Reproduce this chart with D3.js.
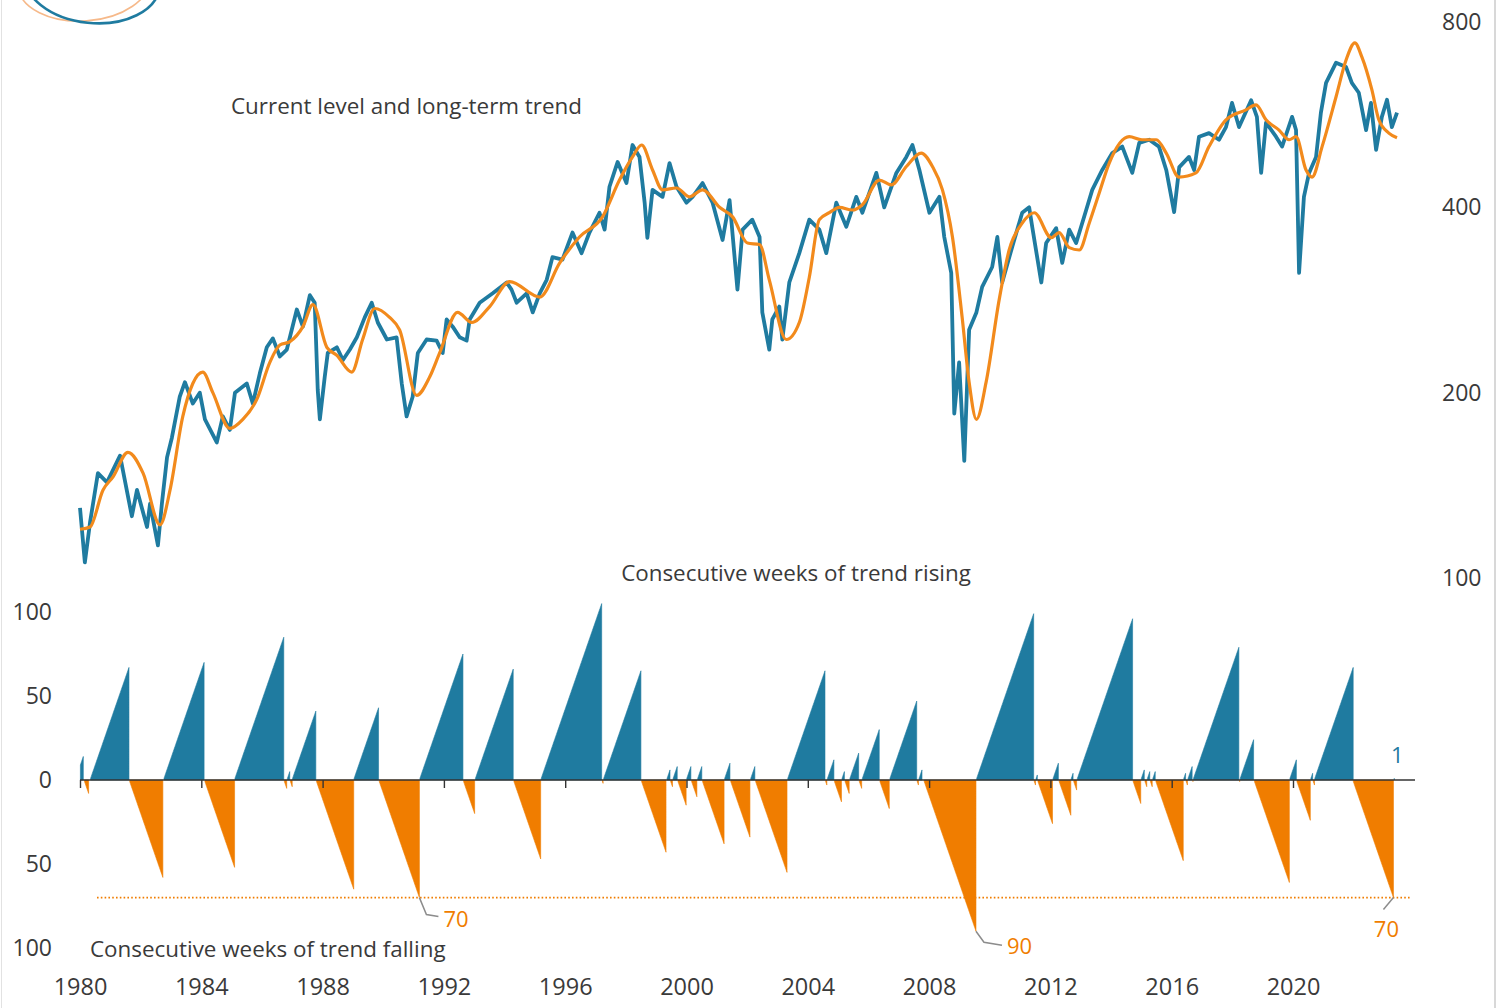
<!DOCTYPE html>
<html>
<head>
<meta charset="utf-8">
<script src="https://cdn.jsdelivr.net/npm/d3@7"></script>
<style>
  body { margin: 0; background: #fff; }
  svg text { font-family: "Open Sans", "Noto Sans", sans-serif; fill: #3a3a3a; }
</style>
</head>
<body>
<svg id="chart" width="1497" height="1008"></svg>
<script>
// index level (weekly close) and its long-term trend
const priceDates = [1980.00,1980.16,1980.33,1980.59,1980.89,1981.32,1981.71,1981.88,1982.21,1982.31,1982.57,1982.70,1982.87,1983.03,1983.29,1983.46,1983.72,1983.95,1984.12,1984.51,1984.71,1984.94,1985.11,1985.50,1985.70,1985.93,1986.16,1986.36,1986.59,1986.82,1987.15,1987.35,1987.58,1987.74,1987.84,1987.91,1988.07,1988.17,1988.47,1988.67,1988.90,1989.13,1989.39,1989.62,1989.82,1990.12,1990.44,1990.61,1990.77,1990.97,1991.14,1991.43,1991.76,1991.96,1992.09,1992.29,1992.52,1992.75,1992.85,1993.18,1993.61,1994.07,1994.23,1994.40,1994.73,1994.93,1995.16,1995.39,1995.58,1995.91,1996.24,1996.54,1996.80,1997.13,1997.30,1997.46,1997.73,1998.02,1998.22,1998.45,1998.62,1998.71,1998.88,1999.21,1999.44,1999.67,2000.00,2000.20,2000.53,2000.86,2001.19,2001.42,2001.68,2001.85,2002.17,2002.41,2002.50,2002.73,2002.83,2003.06,2003.16,2003.39,2003.72,2004.05,2004.38,2004.61,2004.94,2005.27,2005.60,2005.80,2006.26,2006.52,2006.92,2007.25,2007.45,2007.68,2008.01,2008.34,2008.50,2008.73,2008.83,2008.99,2009.16,2009.32,2009.56,2009.75,2010.08,2010.25,2010.41,2010.74,2011.07,2011.30,2011.40,2011.70,2011.86,2012.19,2012.39,2012.62,2012.85,2013.18,2013.38,2013.71,2014.04,2014.37,2014.70,2014.93,2015.26,2015.58,2015.82,2016.08,2016.25,2016.57,2016.74,2016.90,2017.23,2017.56,2017.79,2017.99,2018.22,2018.62,2018.81,2018.95,2019.11,2019.44,2019.64,2019.97,2020.10,2020.20,2020.36,2020.53,2020.76,2020.92,2021.09,2021.42,2021.75,2021.94,2022.17,2022.41,2022.57,2022.74,2022.93,2023.10,2023.26,2023.43];
const priceValues = [130,106,123,148,143,158,126,139,121,132,113,132,157,169,197,208,192,200,181,166,183,174,200,207,192,215,237,245,229,235,273,256,288,280,202,181,212,232,237,226,235,246,265,280,260,244,246,207,183,197,232,244,243,232,263,256,246,243,263,280,290,302,294,280,290,270,290,305,332,329,364,337,364,392,368,432,474,438,505,483,407,357,427,416,472,432,407,416,438,407,354,411,294,368,382,358,270,235,263,276,244,302,337,382,368,337,407,372,416,392,455,400,455,483,505,460,392,416,358,313,185,224,155,253,270,297,320,358,302,345,392,400,372,302,350,370,325,368,350,396,427,460,490,502,455,509,515,502,460,393,465,483,460,521,528,515,540,591,540,597,561,455,549,521,502,561,534,313,416,455,483,570,637,687,676,637,614,534,591,496,561,598,540,570];

const trendDates = [1980.00,1980.33,1980.76,1981.09,1981.58,1982.08,1982.64,1982.97,1983.39,1983.72,1984.05,1984.38,1984.94,1985.37,1985.83,1986.26,1986.59,1986.92,1987.35,1987.68,1988.14,1988.47,1988.96,1989.32,1989.72,1990.21,1990.54,1991.10,1991.53,1991.86,1992.45,1992.92,1993.51,1994.17,1995.16,1995.82,1996.47,1997.23,1997.79,1998.22,1998.52,1998.88,1999.21,1999.67,2000.10,2000.53,2001.09,2001.52,2002.01,2002.41,2002.73,2003.29,2003.72,2004.05,2004.38,2004.71,2005.04,2005.47,2005.80,2006.36,2006.75,2007.25,2007.74,2008.11,2008.44,2008.77,2009.09,2009.32,2009.56,2009.88,2010.31,2010.64,2011.07,2011.47,2012.03,2012.29,2012.62,2012.95,2013.28,2013.61,2013.94,2014.60,2015.02,2015.49,2015.82,2016.24,2016.80,2017.23,2017.79,2018.45,2018.78,2019.11,2019.54,2019.87,2020.10,2020.43,2020.63,2020.96,2021.42,2021.75,2022.04,2022.27,2022.60,2022.83,2023.16,2023.43];
const trendValues = [120,121,139,146,160,148,122,139,183,207,216,200,175,181,195,224,239,242,256,278,237,230,216,244,274,265,253,198,212,232,270,260,276,303,286,325,358,386,443,483,505,460,427,430,416,427,400,386,350,348,305,244,260,308,382,392,400,396,404,443,435,466,490,466,427,358,265,208,181,208,283,341,377,392,357,364,344,341,377,422,472,521,515,515,490,448,455,502,555,576,587,555,534,515,521,460,448,502,605,694,740,702,621,555,528,519];

// runs of consecutive weeks with the trend rising (+1) or falling (-1)
const runStart = [1979.86,1980.15,1980.35,1981.64,1982.77,1984.12,1985.11,1986.74,1986.84,1986.94,1987.01,1987.80,1989.04,1989.87,1991.21,1992.65,1993.04,1994.31,1995.21,1997.23,1997.27,1998.52,1999.36,1999.48,1999.56,1999.72,2000.01,2000.17,2000.37,2000.53,2001.26,2001.46,2002.12,2002.28,2003.34,2004.59,2004.65,2004.88,2005.13,2005.23,2005.39,2005.70,2005.80,2006.38,2006.71,2007.61,2007.67,2007.84,2009.57,2011.47,2011.53,2011.59,2012.09,2012.29,2012.69,2012.77,2012.89,2014.73,2015.00,2015.12,2015.20,2015.30,2015.38,2015.48,2016.40,2016.48,2016.54,2016.70,2016.72,2018.24,2018.26,2018.73,2019.90,2020.13,2020.59,2020.67,2020.72,2021.99,2023.34];
const runPeak  = [14,8,67,58,70,52,85,5,5,4,41,65,43,70,75,20,66,47,105,2,65,43,6,4,8,15,8,10,8,38,10,34,8,55,65,3,12,13,5,8,16,5,30,17,47,3,6,90,99,3,3,26,10,21,4,6,96,14,6,4,5,4,5,48,4,3,8,1,79,1,24,61,12,24,4,3,67,70,1];
const runSign  = [1,-1,1,-1,1,-1,1,-1,1,-1,1,-1,1,-1,1,-1,1,-1,1,-1,1,-1,1,-1,1,-1,1,-1,1,-1,1,-1,1,-1,1,-1,1,-1,1,-1,1,-1,1,-1,1,-1,1,-1,1,-1,1,-1,1,-1,1,-1,1,-1,1,-1,1,-1,1,-1,1,-1,1,-1,1,-1,1,-1,1,-1,1,-1,1,-1,1];

const xTickYears = [1980,1984,1988,1992,1996,2000,2004,2008,2012,2016,2020];
const priceTicks = [100,200,400,800];
const weekTicks = [100,50,0,-50,-100];
const threshold = -70;

const teal = "#1f7ba0";
const orange = "#f07d00";
const WEEK = 7 / 365.25;

const svg = d3.select('#chart');
const width = +svg.attr('width');
const height = +svg.attr('height');

const x = d3.scaleLinear().domain([1980, 2020]).range([80, 1293]);
const yTop = d3.scaleLog().domain([100, 800]).range([578, 22]);
const yBot = d3.scaleLinear().domain([-100, 100]).range([948, 612]);

// frame edges
svg.append('line').attr('x1', 1.5).attr('x2', 1.5).attr('y1', 0).attr('y2', height).attr('stroke', '#e2e2e2');
svg.append('line').attr('x1', width - 2).attr('x2', width - 2).attr('y1', 0).attr('y2', height).attr('stroke', '#d8d8d8').attr('stroke-width', 2);

// logo rings, cut by the top edge
svg.append('ellipse').attr('cx', 84).attr('cy', -18).attr('rx', 66).attr('ry', 39)
  .attr('fill', 'none').attr('stroke', '#f6b98a').attr('stroke-width', 1.6).attr('transform', 'rotate(-4,84,-18)');
svg.append('ellipse').attr('cx', 92).attr('cy', -20).attr('rx', 68).attr('ry', 43)
  .attr('fill', 'none').attr('stroke', teal).attr('stroke-width', 2.6).attr('transform', 'rotate(6,92,-20)');

// ---- upper panel
const priceData = priceDates.map((d, i) => ({date: d, value: priceValues[i]}));
const trendData = trendDates.map((d, i) => ({date: d, value: trendValues[i]}));

const priceLine = d3.line().x(d => x(d.date)).y(d => yTop(d.value));
const trendLine = d3.line().x(d => x(d.date)).y(d => yTop(d.value)).curve(d3.curveMonotoneX);

svg.append('path').datum(priceData)
  .attr('d', priceLine).attr('fill', 'none').attr('stroke', teal)
  .attr('stroke-width', 3.8).attr('stroke-linejoin', 'round');
svg.append('path').datum(trendData)
  .attr('d', trendLine).attr('fill', 'none').attr('stroke', '#f28a1c')
  .attr('stroke-width', 3.2).attr('stroke-linejoin', 'round');

const rightAxis = svg.append('g').attr('transform', 'translate(1436,0)')
  .call(d3.axisRight(yTop).tickValues(priceTicks).tickSize(0).tickPadding(6).tickFormat(d3.format('d')));
rightAxis.select('.domain').remove();
rightAxis.selectAll('text').attr('font-size', 23).attr('font-family', null).attr('fill', '#3a3a3a');

svg.append('text').attr('x', 231).attr('y', 114).attr('font-size', 22.4)
  .text('Current level and long-term trend');

// ---- lower panel
const runs = runStart.map((s, i) => ({
  sign: runSign[i],
  weeks: d3.range(1, runPeak[i] + 1).map(n => ({date: s + (n - 1) * WEEK, count: runSign[i] * n}))
    .filter(w => w.date >= 1980)
}));

const area = d3.area().x(d => x(d.date)).y0(yBot(0)).y1(d => yBot(d.count));

svg.append('g').selectAll('path').data(runs).enter().append('path')
  .attr('d', d => area(d.weeks))
  .attr('fill', d => d.sign > 0 ? teal : orange)
  .attr('stroke', d => d.sign > 0 ? teal : orange)
  .attr('stroke-width', 0.6);

// threshold line with soft shadow
const defs = svg.append('defs');
defs.append('filter').attr('id', 'soft').append('feGaussianBlur').attr('stdDeviation', 2.5);
svg.append('line').attr('x1', 100).attr('x2', 1412).attr('y1', yBot(threshold) + 5).attr('y2', yBot(threshold) + 5)
  .attr('stroke', '#000').attr('stroke-opacity', 0.10).attr('stroke-width', 6).attr('filter', 'url(#soft)');
svg.append('line').attr('x1', 97).attr('x2', 1410).attr('y1', yBot(threshold)).attr('y2', yBot(threshold))
  .attr('stroke', orange).attr('stroke-width', 1.6).attr('stroke-dasharray', '1.6,2.2');

// zero line with year ticks
svg.append('line').attr('x1', x(1980)).attr('x2', 1415).attr('y1', yBot(0)).attr('y2', yBot(0))
  .attr('stroke', '#333').attr('stroke-width', 1.4);
const tickAxis = svg.append('g').attr('transform', `translate(0,${yBot(0)})`)
  .call(d3.axisBottom(x).tickValues(xTickYears).tickSize(8).tickFormat(''));
tickAxis.select('.domain').remove();
tickAxis.selectAll('line').attr('stroke', '#333').attr('stroke-width', 1.4);

const leftAxis = svg.append('g').attr('transform', 'translate(54,0)')
  .call(d3.axisLeft(yBot).tickValues(weekTicks).tickSize(0).tickPadding(2).tickFormat(d => Math.abs(d)));
leftAxis.select('.domain').remove();
leftAxis.selectAll('text').attr('font-size', 23).attr('font-family', null).attr('fill', '#3a3a3a');

const bottomAxis = svg.append('g').attr('transform', 'translate(0,974)')
  .call(d3.axisBottom(x).tickValues(xTickYears).tickSize(0).tickPadding(4).tickFormat(d3.format('d')));
bottomAxis.select('.domain').remove();
bottomAxis.selectAll('text').attr('font-size', 23.5).attr('font-family', null).attr('fill', '#3a3a3a');

svg.append('text').attr('x', 796).attr('y', 581).attr('font-size', 22.4).attr('text-anchor', 'middle')
  .text('Consecutive weeks of trend rising');
svg.append('text').attr('x', 90).attr('y', 957).attr('font-size', 22.4)
  .text('Consecutive weeks of trend falling');

// annotations at run tips
const tip = i => ({x: x(runStart[i] + (runPeak[i] - 1) * WEEK), y: yBot(runSign[i] * runPeak[i]), v: runPeak[i]});
const notes = [
  {run: 13, pts: [[0, 0], [7, 17], [19, 19]], tx: 24, ty: 29, anchor: 'start', color: orange},
  {run: 47, pts: [[0, 0], [8, 11], [26, 14]], tx: 31, ty: 23, anchor: 'start', color: orange},
  {run: 77, pts: [[0, 0], [-10, 12]], tx: -7, ty: 39, anchor: 'middle', color: orange}
];
notes.forEach(n => {
  const t = tip(n.run);
  svg.append('path').attr('d', d3.line()(n.pts.map(p => [t.x + p[0], t.y + p[1]])))
    .attr('fill', 'none').attr('stroke', '#8c8c8c').attr('stroke-width', 1.5);
  svg.append('text').attr('x', t.x + n.tx).attr('y', t.y + n.ty).attr('text-anchor', n.anchor)
    .attr('font-size', 22).style('fill', n.color).text(t.v);
});
const last = tip(runStart.length - 1);
svg.append('text').attr('x', last.x + 3).attr('y', 763).attr('text-anchor', 'middle')
  .attr('font-size', 22).style('fill', teal).text(last.v);
</script>
</body>
</html>
